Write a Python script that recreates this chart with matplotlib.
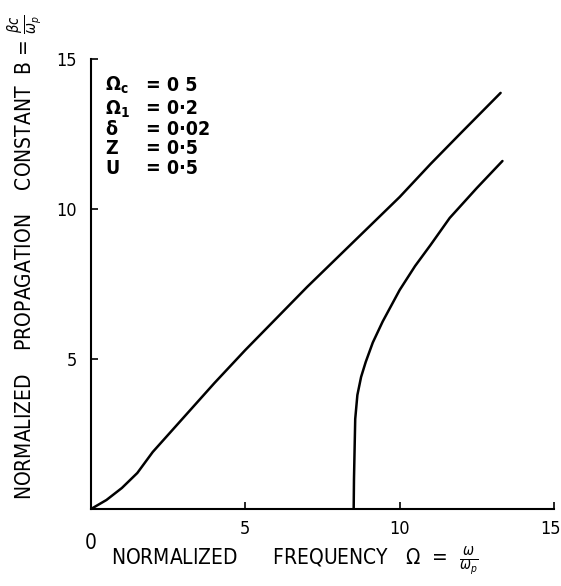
#!/usr/bin/env python3
import matplotlib
matplotlib.use('Agg')
import matplotlib.pyplot as plt
from matplotlib.transforms import ScaledTranslation

# curve values
omega_1 = [0, 0.5, 1, 1.5, 2, 3, 4, 5, 6, 7, 8, 9, 10, 11, 12, 13.27]
beta_1 = [0, 0.3, 0.7, 1.2, 1.9, 3.05, 4.2, 5.3, 6.35, 7.4, 8.4, 9.4, 10.4, 11.5, 12.55, 13.87]

omega_2 = [8.51, 8.52, 8.54, 8.56, 8.63, 8.75, 8.9, 9.13, 9.45, 10.0, 10.5, 11.0, 11.62, 12.5, 13.33]
beta_2 = [0, 1, 2, 3, 3.8, 4.4, 4.9, 5.55, 6.25, 7.3, 8.1, 8.8, 9.7, 10.7, 11.6]

params = [r'$\mathbf{\Omega_c}$', r'$\mathbf{\Omega_1}$', r'$\mathbf{\delta}$', 'Z', 'U']
param_vals = ['= 0 5', '= 0·2', '= 0·02', '= 0·5', '= 0·5']

xticks = [5, 10, 15]
yticks = [5, 10, 15]

plt.rcParams['font.family'] = ['DejaVu Sans']
plt.rcParams['font.stretch'] = 'condensed'
plt.rcParams['mathtext.fontset'] = 'dejavusans'

fig = plt.figure(figsize=(5.61, 5.86), dpi=100)
ax = fig.add_axes([91/561, 77/586, 463/561, 450/586])

ax.plot(omega_1, beta_1, color='black', lw=1.8, solid_capstyle='round')
ax.plot(omega_2, beta_2, color='black', lw=1.8, solid_capstyle='round')

ax.set_xlim(0, 15)
ax.set_ylim(0, 15)
ax.spines['top'].set_visible(False)
ax.spines['right'].set_visible(False)
ax.spines['left'].set_linewidth(1.5)
ax.spines['bottom'].set_linewidth(1.5)

ax.set_xticks(xticks)
ax.set_xticklabels([str(t) for t in xticks])
ax.set_yticks(yticks)
ax.set_yticklabels([str(t) for t in yticks])
ax.tick_params(direction='in', length=5, width=1.2, labelsize=13, pad=8)
ax.tick_params(axis='y', pad=10)
# last x label sits right at the figure edge; keep it inside
last = ax.get_xticklabels()[-1]
last.set_horizontalalignment('right')
last.set_transform(last.get_transform() + ScaledTranslation(5/72, 0, fig.dpi_scale_trans))
# lone "0" sits lower than the other x tick labels
ax.text(0, -0.075, '0', transform=ax.transAxes, ha='center', va='center', fontsize=15)

ax.set_xlabel(r'NORMALIZED      FREQUENCY   $\Omega$  =  $\frac{\omega}{\omega_p}$', fontsize=15)
ax.xaxis.set_label_coords(0.44, -0.08)
ax.set_ylabel(r'NORMALIZED    PROPAGATION    CONSTANT  B = $\frac{\beta c}{\omega_p}$', fontsize=15)
ax.yaxis.set_label_coords(-0.10, 0.56)

rows = [0.942, 0.889, 0.844, 0.80, 0.756]
for name, val, yy in zip(params, param_vals, rows):
    ax.text(0.03, yy, name, transform=ax.transAxes, ha='left', va='center',
            fontsize=14, fontweight='bold')
    ax.text(0.118, yy, val, transform=ax.transAxes, ha='left', va='center',
            fontsize=14, fontweight='bold')

plt.savefig('out.png', dpi=100)
